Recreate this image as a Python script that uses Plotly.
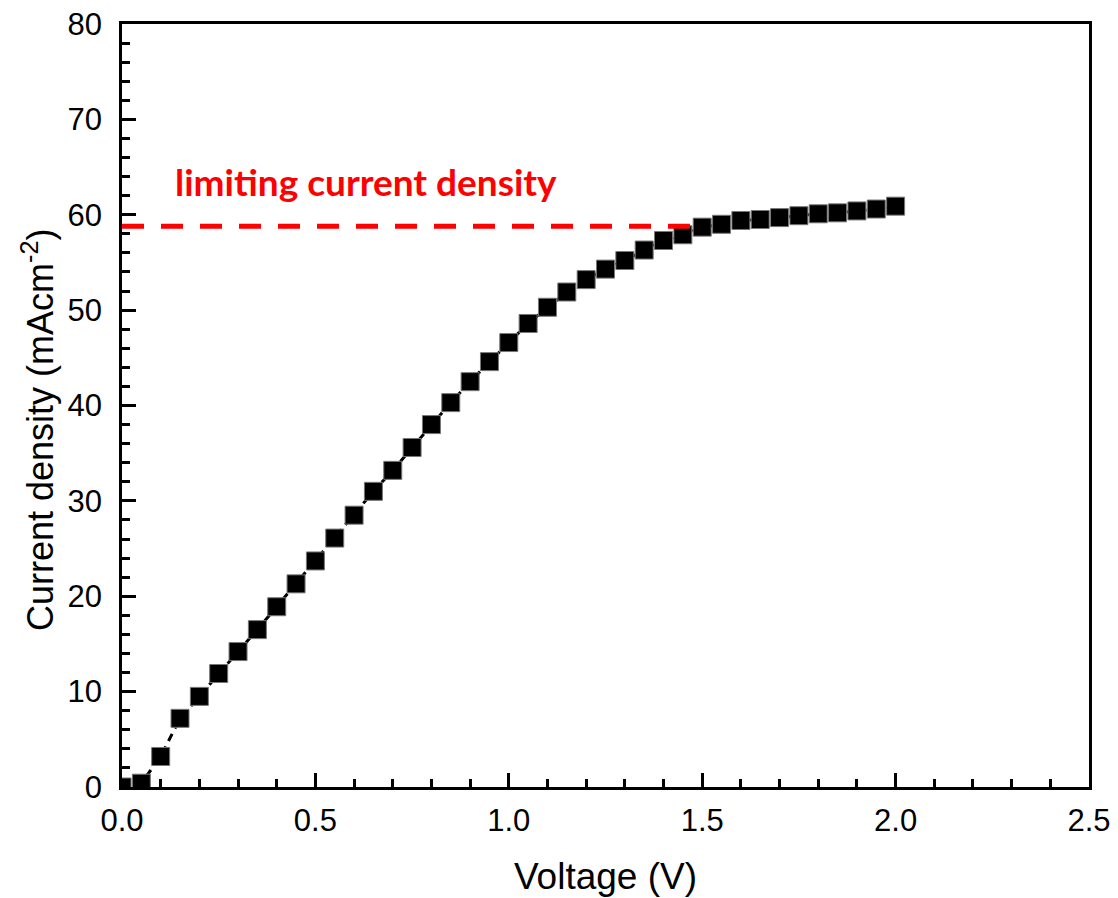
import plotly.graph_objects as go

voltage = [0.00, 0.05, 0.10, 0.15, 0.20, 0.25, 0.30, 0.35, 0.40, 0.45,
           0.50, 0.55, 0.60, 0.65, 0.70, 0.75, 0.80, 0.85, 0.90, 0.95,
           1.00, 1.05, 1.10, 1.15, 1.20, 1.25, 1.30, 1.35, 1.40, 1.45,
           1.50, 1.55, 1.60, 1.65, 1.70, 1.75, 1.80, 1.85, 1.90, 1.95, 2.00]
current = [0.0, 0.4, 3.2, 7.2, 9.5, 11.9, 14.2, 16.5, 18.9, 21.3,
           23.7, 26.1, 28.5, 31.0, 33.2, 35.6, 38.0, 40.3, 42.5, 44.6,
           46.6, 48.6, 50.3, 51.9, 53.2, 54.3, 55.2, 56.3, 57.3, 57.9,
           58.7, 59.0, 59.4, 59.5, 59.7, 59.9, 60.1, 60.2, 60.4, 60.6, 60.9]

limit_x = [0.0, 1.5]
limit_y = [58.8, 58.8]
limit_label = "limiting current density"
label_pos = (0.133, 63.5)

x_title = "Voltage (V)"
y_title = "Current density (mAcm<sup>-2</sup>)"

x_ticks = [0.0, 0.5, 1.0, 1.5, 2.0, 2.5]
y_ticks = [0, 10, 20, 30, 40, 50, 60, 70, 80]

fig = go.Figure()
fig.add_trace(go.Scatter(
    x=voltage, y=current, mode="lines+markers",
    line=dict(color="black", width=3, dash="8px,6px"),
    marker=dict(symbol="square", size=18, color="black",
                line=dict(color="#777777", width=1)),
    showlegend=False,
))
fig.add_trace(go.Scatter(
    x=limit_x, y=limit_y, mode="lines",
    line=dict(color="#ff0000", width=5, dash="22px,17px"),
    showlegend=False,
))
fig.add_annotation(
    x=label_pos[0], y=label_pos[1], xref="x", yref="y",
    text=limit_label, showarrow=False, xanchor="left", yanchor="middle",
    font=dict(family="Lato", size=37, color="#ff0000", weight="bold"),
)
# y-axis title placed as rotated annotation to match reference position
fig.add_annotation(
    x=-0.087, y=0.469, xref="paper", yref="paper",
    text=y_title, showarrow=False, textangle=-90,
    xanchor="center", yanchor="middle",
    font=dict(family="Liberation Sans, Arial", size=36, color="black"),
)

axis_common = dict(
    showline=True, linecolor="black", linewidth=2.5, mirror=True,
    ticks="inside", ticklen=14, tickwidth=2.5, tickcolor="black",
    showgrid=False, zeroline=False, automargin=False,
    ticklabeloverflow="allow",
    tickfont=dict(family="Liberation Sans, Arial", size=31, color="black"),
)

fig.update_xaxes(
    range=[0, 2.5], tickvals=x_ticks, ticktext=[f"{v:.1f}" for v in x_ticks],
    minor=dict(dtick=0.1, tick0=0, ticks="inside", ticklen=8, tickwidth=2.5, tickcolor="black"),
    title=dict(text=x_title, font=dict(family="Liberation Sans, Arial", size=37, color="black"), standoff=27),
    ticklabelstandoff=4,
    **axis_common,
)
fig.update_yaxes(
    range=[0, 80], tickvals=y_ticks,
    minor=dict(dtick=2, tick0=0, ticks="inside", ticklen=8, tickwidth=2.5, tickcolor="black"),
    ticklabelstandoff=11,
    **axis_common,
)

fig.update_layout(
    width=1118, height=898,
    margin=dict(l=114, r=37, t=16, b=119),
    plot_bgcolor="white", paper_bgcolor="white",
)

fig.write_html("out.html")
